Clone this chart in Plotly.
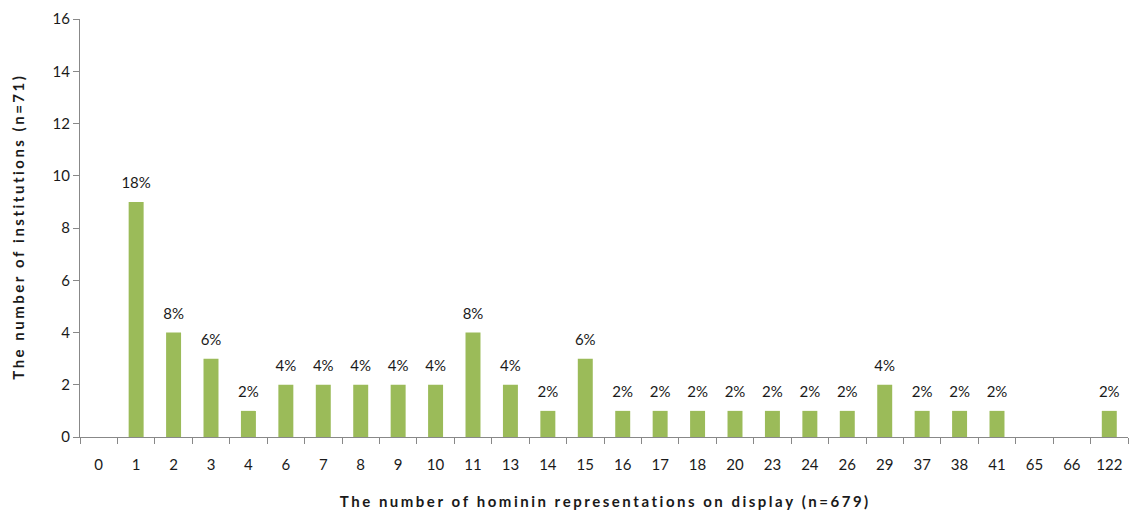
import plotly.graph_objects as go

categories = ["0", "1", "2", "3", "4", "6", "7", "8", "9", "10", "11", "13", "14", "15",
              "16", "17", "18", "20", "23", "24", "26", "29", "37", "38", "41", "65", "66", "122"]
institutions = [0, 9, 4, 3, 1, 2, 2, 2, 2, 2, 4, 2, 1, 3,
                1, 1, 1, 1, 1, 1, 1, 2, 1, 1, 1, 0, 0, 1]
pct_labels = ["", "18%", "8%", "6%", "2%", "4%", "4%", "4%", "4%", "4%", "8%", "4%", "2%", "6%",
              "2%", "2%", "2%", "2%", "2%", "2%", "2%", "4%", "2%", "2%", "2%", "", "", "2%"]
y_ticks = [0, 2, 4, 6, 8, 10, 12, 14, 16]

FONT = "Lato, 'Open Sans', sans-serif"


def spaced(s):
    return "\u2006".join(s)


fig = go.Figure()
fig.add_trace(go.Bar(
    x=categories, y=institutions,
    marker=dict(color="#9BBB59", line=dict(width=0)),
    width=0.4, hoverinfo="x+y",
))
fig.add_trace(go.Scatter(
    x=categories, y=institutions,
    mode="markers+text",
    marker=dict(size=14, opacity=0),
    text=pct_labels, textposition="top center",
    textfont=dict(family=FONT, size=15, color="#1a1a1a"),
    cliponaxis=False, hoverinfo="skip",
))
fig.update_layout(
    width=1129, height=511,
    margin=dict(l=80, r=1, t=19, b=74),
    plot_bgcolor="white", paper_bgcolor="white",
    showlegend=False,
    font=dict(family=FONT, size=15, color="#1a1a1a"),
    xaxis=dict(
        type="category", categoryorder="array", categoryarray=categories,
        range=[-0.5, len(categories) - 0.5],
        tickson="boundaries", ticks="outside", ticklen=6, tickangle=0,
        tickcolor="#888888", showline=True, linecolor="#888888", linewidth=1,
        showgrid=False, tickfont=dict(size=15, family=FONT), automargin=False,
        ticklabelstandoff=14,
        title=dict(text="<b>" + spaced("The number of hominin representations on display (n=679)") + "</b>",
                   font=dict(size=15, family=FONT), standoff=24),
    ),
    yaxis=dict(
        range=[0, 16], tickvals=y_ticks, ticks="outside", ticklen=6,
        tickcolor="#888888", showline=True, linecolor="#888888", linewidth=1,
        showgrid=False, zeroline=False, tickfont=dict(size=15, family=FONT), automargin=False,
        title=dict(text="<b>" + spaced("The number of institutions (n=71)") + "</b>",
                   font=dict(size=15, family=FONT), standoff=24),
    ),
)
fig.write_html("out.html", config={"displayModeBar": False},
               post_script="document.body.style.margin='0';")
